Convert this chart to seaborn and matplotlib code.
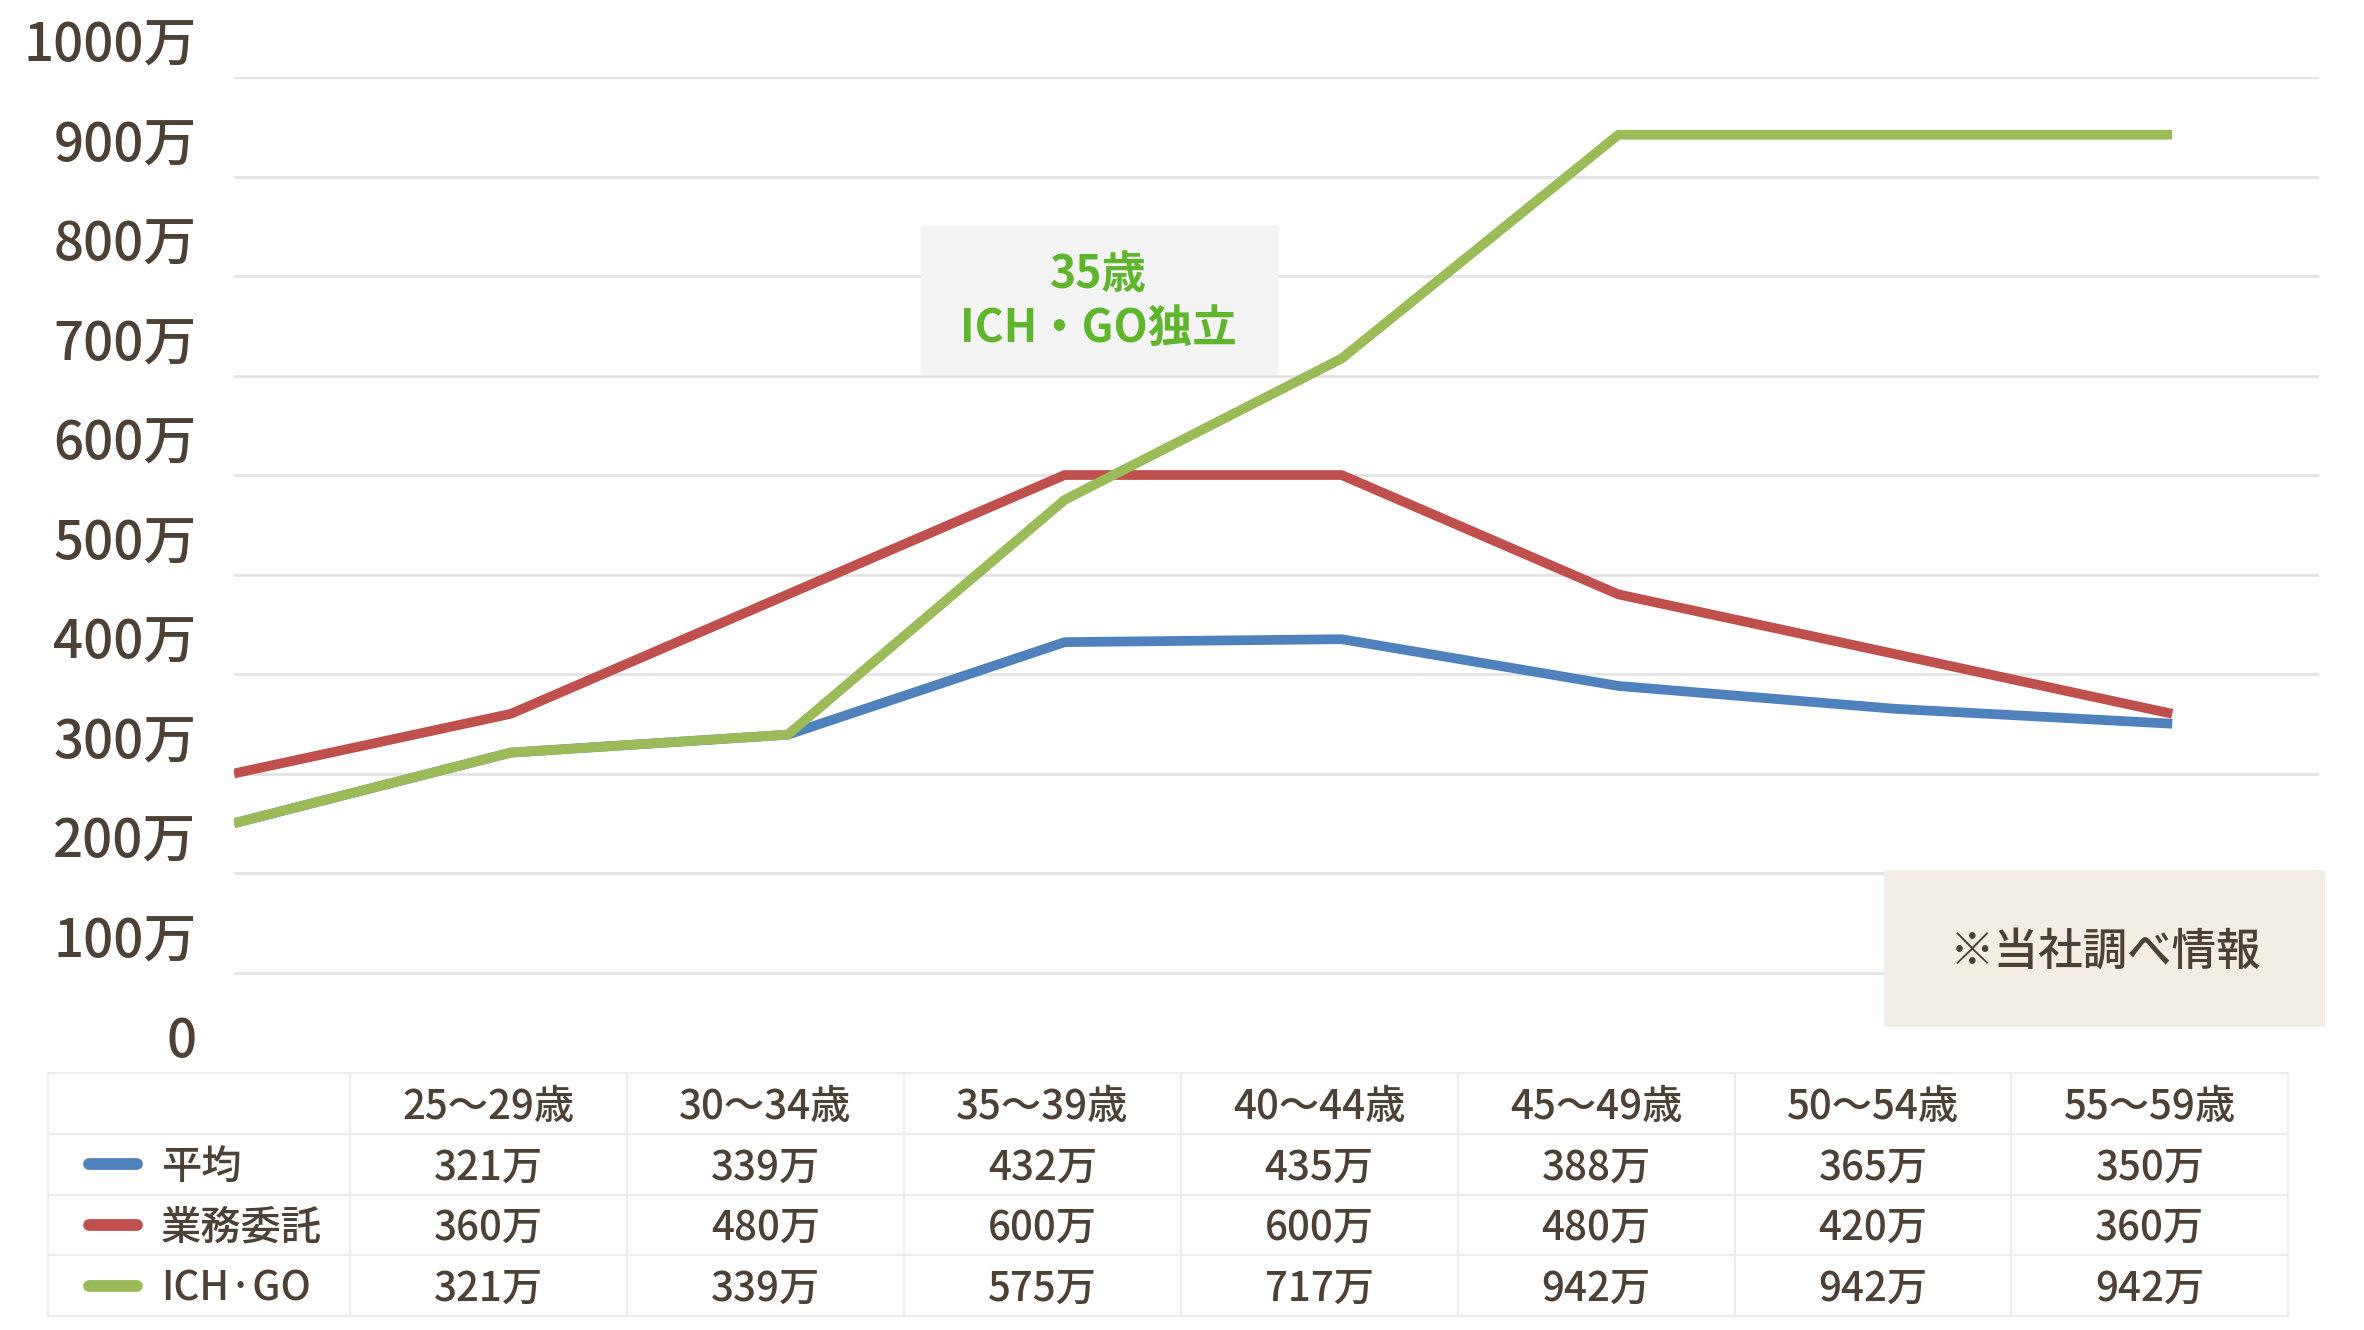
import numpy as np
import pandas as pd
import matplotlib
matplotlib.use("Agg")
import matplotlib.pyplot as plt
from matplotlib.patches import Rectangle
from matplotlib.transforms import offset_copy
import seaborn as sns


# ══════════════════════════════════════════════
# DATA
# ══════════════════════════════════════════════

AGE_GROUPS   = ["", "25～29歳", "30～34歳", "35～39歳", "40～44歳",
                "45～49歳", "50～54歳", "55～59歳"]
AVERAGE      = [250, 321, 339, 432, 435, 388, 365, 350]
OUTSOURCE    = [300, 360, 480, 600, 600, 480, 420, 360]
ICHGO        = [250, 321, 339, 575, 717, 942, 942, 942]
SERIES_NAMES = ["平均", "業務委託", "ICH·GO"]
Y_TICKS      = list(range(0, 1001, 100))
Y_LABELS     = ["0"] + [f"{v}万" for v in Y_TICKS[1:]]
ANNOTATION   = "35歳\nICH・GO独立"
NOTE         = "※当社調べ情報"


# ══════════════════════════════════════════════
# SETTINGS
# ══════════════════════════════════════════════

W, H, DPI   = 2364, 1330, 100
COLORS      = ["#4f81bd", "#c0504d", "#9bbb59"]
TEXT_COLOR  = "#4d4135"
GRID_COLOR  = "#e4e4e4"
TABLE_LINE  = "#ececec"
ANNOT_GREEN = "#5fb52b"
WEIGHT      = "medium"

sns.set_theme(style="white")
plt.rcParams["font.family"] = ["Noto Sans CJK JP", "DejaVu Sans"]

fig = plt.figure(figsize=(W / DPI, H / DPI), dpi=DPI, facecolor="white")

# ── main line chart ──
ax = fig.add_axes([234 / W, 1 - 1072 / H, (2319 - 234) / W, (1072 - 77) / H])
x = np.arange(len(AGE_GROUPS))
df = pd.DataFrame({"x": np.tile(x, 3),
                   "value": AVERAGE + OUTSOURCE + ICHGO,
                   "series": np.repeat(SERIES_NAMES, len(x))})

for name, color in zip(SERIES_NAMES, COLORS):
    sub = df[df["series"] == name]
    sns.lineplot(data=sub, x="x", y="value", ax=ax, color=color,
                 linewidth=7, solid_joinstyle="round", solid_capstyle="butt",
                 legend=False, zorder=3)

ax.set_xlim(0, 7.53)
ax.set_ylim(0, 1000)
ax.set_yticks(Y_TICKS[1:])
ax.set_xticks([])
ax.tick_params(axis="y", length=0, labelleft=False)
ax.grid(axis="y", color=GRID_COLOR, linewidth=2)
ax.set_xlabel("")
ax.set_ylabel("")
for s in ax.spines.values():
    s.set_visible(False)

# y labels sit above their gridlines
lbl_trans = offset_copy(ax.get_yaxis_transform(), fig=fig, x=0, y=30, units="dots")
for v, lab in zip(Y_TICKS, Y_LABELS):
    ax.text(-0.018, v, lab, transform=lbl_trans, ha="right", va="center",
            fontsize=38, fontweight=WEIGHT, color=TEXT_COLOR, clip_on=False)

# annotation box
ax.add_patch(Rectangle((2.48, 701), 1.29, 149, facecolor="#f4f4f4",
                       edgecolor="none", zorder=2))
ax.text(3.12, 774, ANNOTATION, ha="center", va="center", fontsize=32,
        fontweight="bold", color=ANNOT_GREEN, linespacing=1.2, zorder=4)

# note box
ax.add_patch(Rectangle((5.96, 45), 1.59, 158, facecolor="#f2eee6",
                       edgecolor="none", zorder=4, clip_on=False))
ax.text(6.76, 120, NOTE, ha="center", va="center", fontsize=32,
        fontweight=WEIGHT, color=TEXT_COLOR, zorder=5, clip_on=False)

# ── data table ──
tx = fig.add_axes([48 / W, 1 - 1316 / H, (2287 - 48) / W, (1316 - 1073) / H])
left, label_right, right = -0.672, 0.419, 7.414
tx.set_xlim(left, right)
tx.set_ylim(4, 0)
tx.axis("off")

for r in range(5):
    tx.plot([left, right], [r, r], color=TABLE_LINE, lw=1.5, clip_on=False)
for c in [left, label_right] + [label_right + k for k in range(1, 8)]:
    tx.plot([c, c], [0, 4], color=TABLE_LINE, lw=1.5, clip_on=False)

ty = 0.56
for k, grp in enumerate(AGE_GROUPS[1:], start=1):
    tx.text(k - 0.081, ty, grp, ha="center", va="center",
            fontsize=29, fontweight=WEIGHT, color=TEXT_COLOR)

for row, (name, color, vals) in enumerate(
        zip(SERIES_NAMES, COLORS, [AVERAGE, OUTSOURCE, ICHGO]), start=1):
    tx.plot([-0.523, -0.351], [row + 0.5, row + 0.5], color=color, lw=8.5,
            solid_capstyle="round")
    tx.text(-0.264, row + ty, name, ha="left", va="center",
            fontsize=29, fontweight=WEIGHT, color=TEXT_COLOR)
    for k, v in enumerate(vals[1:], start=1):
        tx.text(k - 0.081, row + ty, f"{v}万", ha="center", va="center",
                fontsize=29, fontweight=WEIGHT, color=TEXT_COLOR)

fig.savefig("out.png", dpi=DPI, facecolor="white")
